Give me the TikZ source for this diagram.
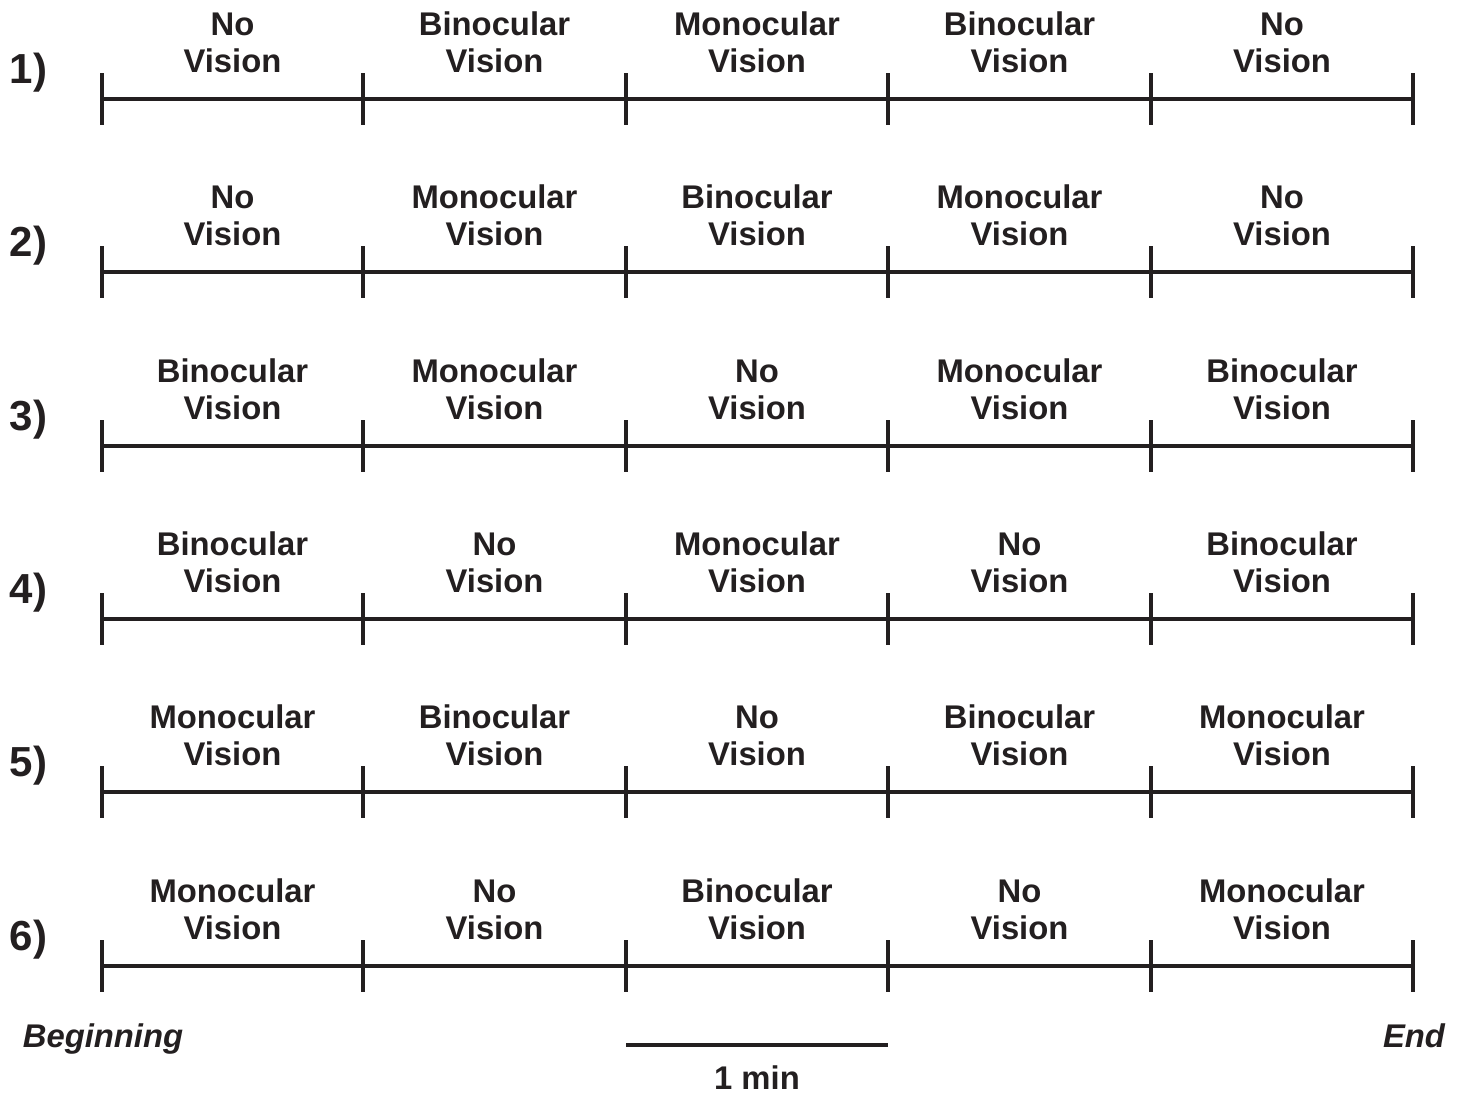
\documentclass[tikz,border=0pt]{standalone}
\usepackage{fontspec}
\setmainfont{Liberation Sans}
\usetikzlibrary{calc}
\definecolor{ink}{HTML}{231F20}
\begin{document}
\begin{tikzpicture}[x=1pt,y=-1pt,
  axis/.style={line width=3.3pt, draw=ink},
  lab/.style={font=\fontsize{32.8}{37}\selectfont\bfseries, text=ink, align=center, anchor=base, inner sep=0pt},
  rowlab/.style={font=\fontsize{42}{48}\selectfont\bfseries, text=ink, anchor=base, inner sep=0pt},
  endlab/.style={font=\fontsize{32.8}{37}\selectfont\bfseries\itshape, text=ink, anchor=base, inner sep=0pt}]
\useasboundingbox (0,0) rectangle (1463,1093);
\foreach \r/\y/\a/\b/\c/\d/\e in {
  1/99/No/Binocular/Monocular/Binocular/No,
  2/272/No/Monocular/Binocular/Monocular/No,
  3/446/Binocular/Monocular/No/Monocular/Binocular,
  4/619/Binocular/No/Monocular/No/Binocular,
  5/792/Monocular/Binocular/No/Binocular/Monocular,
  6/966/Monocular/No/Binocular/No/Monocular}{
  \foreach \xx [count=\k from 0] in {102,363,626,888,1151,1413}{
    \coordinate (p-\r-\k) at (\xx,\y);
    \draw[axis] (\xx,\y-26) -- (\xx,\y+26);
  }
  \draw[axis] (p-\r-0) -- (p-\r-5);
  \node[rowlab] (row-\r) at (28.5,\y-16) {\r)};
  \foreach \w/\cx [count=\i] in {\a/232.5,\b/494.5,\c/757,\d/1019.5,\e/1282}{
    \node[lab] (t-\r-\i) at (\cx,\y-27) {\w\\Vision};
  }
}
\node[endlab] (begin) at (103,1047) {Beginning};
\node[endlab] (end) at (1414,1047) {End};
\coordinate (s0) at (626,1045);
\coordinate (s1) at (888,1045);
\draw[axis] (s0) -- (s1);
\node[lab] (scale) at ($(s0)!0.5!(s1)+(0,44)$) {1 min};
\end{tikzpicture}
\end{document}
